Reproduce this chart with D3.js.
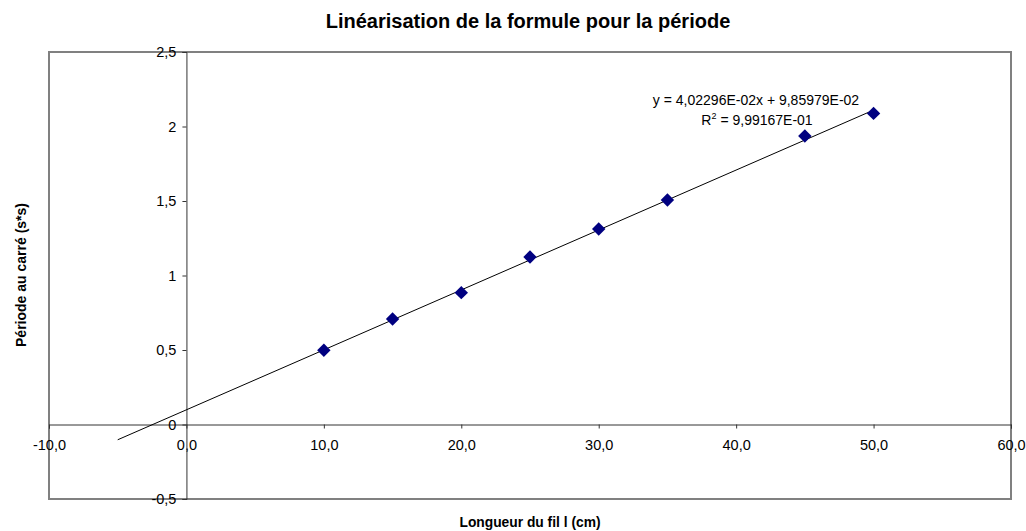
<!DOCTYPE html>
<html>
<head>
<meta charset="utf-8">
<script src="https://cdn.jsdelivr.net/npm/d3@7"></script>
<style>
    body { margin: 0; background: #fff; }
    text { font-family: "Liberation Sans", Arial, sans-serif; fill: #000; }
</style>
</head>
<body>
<script>
// data
const longueurs = [10, 15, 20, 25, 30, 35, 45, 50]
const periodes2 = [0.498, 0.708, 0.885, 1.124, 1.312, 1.507, 1.936, 2.088]
const xTicks = [-10, 0, 10, 20, 30, 40, 50, 60]
const yTicks = [-0.5, 0, 0.5, 1, 1.5, 2, 2.5]
const pente = 4.02296e-2
const origine = 9.85979e-2
const trendRange = [-5, 50]
const equation = "y = 4,02296E-02x + 9,85979E-02"
const r2Value = " = 9,99167E-01"

const width = 1026
const height = 531
const plot = {left: 49, right: 1011, top: 52, bottom: 499}

const sx = d3.scaleLinear().domain([-10, 60]).range([plot.left, plot.right])
const sy = d3.scaleLinear().domain([-0.5, 2.5]).range([plot.bottom, plot.top])

const svg = d3.select("body")
    .append("svg")
    .attr("width", width)
    .attr("height", height)

// plot area border
svg.append("rect")
    .attr("x", plot.left)
    .attr("y", plot.top)
    .attr("width", plot.right - plot.left)
    .attr("height", plot.bottom - plot.top)
    .attr("fill", "#fff")
    .attr("stroke", "#808080")
    .attr("stroke-width", 2)

const fmtX = d => d3.format(".1f")(d).replace(".", ",").replace("−", "-")
const fmtY = d => String(d).replace(".", ",")

// x axis at y = 0
const xAxis = svg.append("g")
    .attr("transform", `translate(0,${sy(0)})`)
    .call(d3.axisBottom(sx).tickValues(xTicks).tickSize(4).tickPadding(11).tickFormat(fmtX))
xAxis.select(".domain").attr("stroke", "#333")
xAxis.selectAll("line").attr("stroke", "#333")
xAxis.selectAll("text").attr("font-size", 14.5).style("font-family", "'Liberation Sans', Arial, sans-serif")

// y axis at x = 0
const yAxis = svg.append("g")
    .attr("transform", `translate(${sx(0)},0)`)
    .call(d3.axisLeft(sy).tickValues(yTicks).tickSize(4).tickPadding(6).tickFormat(fmtY))
yAxis.select(".domain").attr("stroke", "#333")
yAxis.selectAll("line").attr("stroke", "#333")
yAxis.selectAll("text").attr("font-size", 14.5).style("font-family", "'Liberation Sans', Arial, sans-serif")

// trend line
svg.append("line")
    .attr("x1", sx(trendRange[0]))
    .attr("y1", sy(pente * trendRange[0] + origine))
    .attr("x2", sx(trendRange[1]))
    .attr("y2", sy(pente * trendRange[1] + origine))
    .attr("stroke", "#000")
    .attr("stroke-width", 1)

// points
svg.append("g")
    .selectAll("path")
    .data(longueurs)
    .enter().append("path")
    .attr("d", d3.symbol().type(d3.symbolSquare).size(90))
    .attr("transform", (d, i) => `translate(${sx(d)},${sy(periodes2[i])}) rotate(45)`)
    .attr("fill", "#000080")

// equation
svg.append("text")
    .attr("x", 756)
    .attr("y", 105)
    .attr("text-anchor", "middle")
    .attr("font-size", 14)
    .text(equation)

const r2 = svg.append("text")
    .attr("x", 757)
    .attr("y", 125)
    .attr("text-anchor", "middle")
    .attr("font-size", 14)
r2.append("tspan").text("R")
r2.append("tspan").attr("dy", -6).attr("font-size", 9).text("2")
r2.append("tspan").attr("dy", 6).text(r2Value)

// titles
svg.append("text")
    .attr("x", 528)
    .attr("y", 28)
    .attr("text-anchor", "middle")
    .attr("font-size", 20)
    .attr("font-weight", "bold")
    .text("Linéarisation de la formule pour la période")

svg.append("text")
    .attr("x", 530)
    .attr("y", 527)
    .attr("text-anchor", "middle")
    .attr("font-size", 13.8)
    .attr("font-weight", "bold")
    .text("Longueur du fil l (cm)")

svg.append("text")
    .attr("transform", `translate(26,275) rotate(-90)`)
    .attr("text-anchor", "middle")
    .attr("font-size", 14)
    .attr("font-weight", "bold")
    .text("Période au carré (s*s)")
</script>
</body>
</html>
